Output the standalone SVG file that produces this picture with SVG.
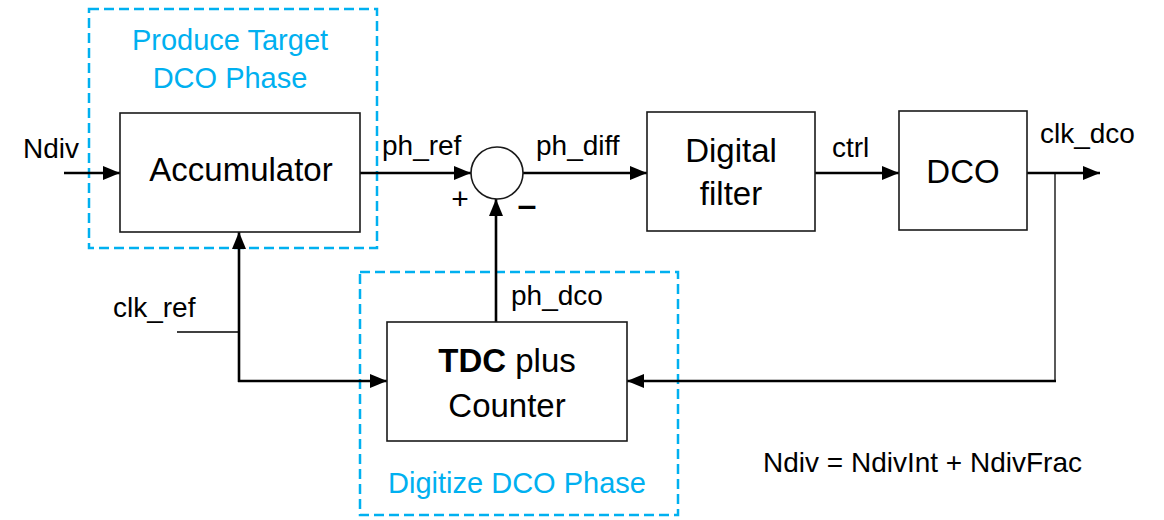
<svg xmlns="http://www.w3.org/2000/svg" width="1164" height="520" viewBox="0 0 1164 520">
<defs>
<marker id="ah" markerUnits="userSpaceOnUse" markerWidth="18" markerHeight="14" refX="17" refY="7" orient="auto">
<path d="M0,0 L17,7 L0,14 Z" fill="#000"/>
</marker>
<style>
.box{fill:#fff;stroke:#1a1a1a;stroke-width:1.6}
.grp{fill:none;stroke:#00B0F0;stroke-width:2.5;stroke-dasharray:10 5}
.w{fill:none;stroke:#000;stroke-width:2.6}
.thin{fill:none;stroke:#000;stroke-width:1.3}
.arr{marker-end:url(#ah)}
text{font-family:"Liberation Sans",Arial,sans-serif;fill:#000}
.lbl{font-size:28px}
.blk{font-size:33px}
.blue{font-size:29px;fill:#00B0F0}
</style>
</defs>
<rect width="1164" height="520" fill="#fff"/>
<g id="group-produce">
<rect class="grp" x="89" y="9" width="288" height="239"/>
<text class="blue" x="230" y="50" text-anchor="middle">Produce Target</text>
<text class="blue" x="230" y="88" text-anchor="middle">DCO Phase</text>
</g>
<g id="group-digitize">
<rect class="grp" x="360" y="272" width="318" height="243"/>
<text class="blue" x="517" y="493" text-anchor="middle">Digitize DCO Phase</text>
</g>
<g id="connectors">
<path class="w arr" d="M64,173 H120"/>
<path class="w arr" d="M360,173 H471"/>
<path class="w arr" d="M523,173 H647"/>
<path class="w arr" d="M815,173 H899"/>
<path class="w arr" d="M1027,173 H1100"/>
<path class="thin" d="M1055,173 V381"/>
<path class="w arr" d="M1056,381 H627"/>
<path class="w arr" d="M496,322 V199"/>
<path class="thin" d="M177,332 H239"/>
<path class="w arr" d="M239,382 V232"/>
<path class="w arr" d="M238,381 H387"/>
</g>
<g id="accumulator">
<rect class="box" x="120" y="113" width="240" height="119"/>
<text class="blk" x="241" y="181" text-anchor="middle">Accumulator</text>
</g>
<g id="summer">
<circle cx="497" cy="173" r="26" fill="#fff" stroke="#1a1a1a" stroke-width="1.6"/>
<text x="460" y="209" text-anchor="middle" font-size="30">+</text>
<text x="527" y="216" text-anchor="middle" font-size="34" font-weight="bold">–</text>
</g>
<g id="digital-filter">
<rect class="box" x="647" y="112" width="168" height="119"/>
<text class="blk" x="731" y="162" text-anchor="middle">Digital</text>
<text class="blk" x="731" y="205" text-anchor="middle">filter</text>
</g>
<g id="dco">
<rect class="box" x="899" y="111" width="128" height="119"/>
<text class="blk" x="963" y="183" text-anchor="middle">DCO</text>
</g>
<g id="tdc">
<rect class="box" x="387" y="322" width="240" height="119"/>
<text class="blk" x="507" y="372" text-anchor="middle"><tspan font-weight="bold">TDC</tspan> plus</text>
<text class="blk" x="507" y="417" text-anchor="middle">Counter</text>
</g>
<g id="labels">
<text class="lbl" x="23" y="158">Ndiv</text>
<text class="lbl" x="382" y="155">ph_ref</text>
<text class="lbl" x="536" y="155">ph_diff</text>
<text class="lbl" x="832" y="157">ctrl</text>
<text class="lbl" x="1040" y="143">clk_dco</text>
<text class="lbl" x="511" y="305">ph_dco</text>
<text class="lbl" x="113" y="317">clk_ref</text>
<text class="lbl" x="763" y="472">Ndiv = NdivInt + NdivFrac</text>
</g>
</svg>
